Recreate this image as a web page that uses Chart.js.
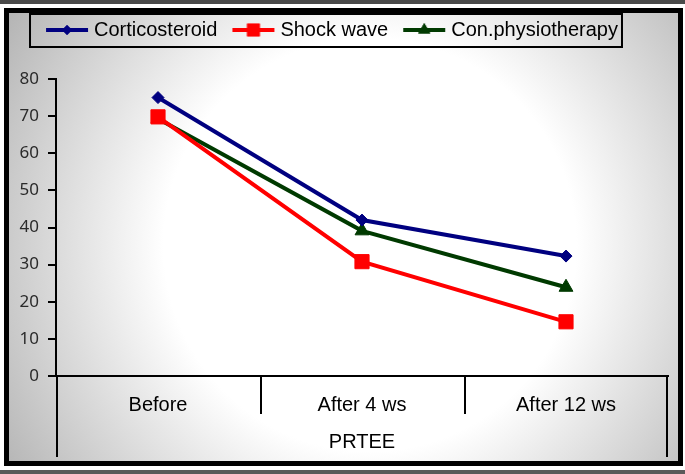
<!DOCTYPE html>
<html>
<head>
<meta charset="utf-8">
<script src="https://cdn.jsdelivr.net/npm/chart.js@4"></script>
<style>
  html, body { margin: 0; padding: 0; background: #fff; }
  #wrap { width: 685px; height: 474px; }
</style>
</head>
<body>
<div id="wrap"><canvas id="chart" width="685" height="474"></canvas></div>
<script>
// categorias e valores
const categories = ['Before', 'After 4 ws', 'After 12 ws'];
const corticosteroid = [75, 42, 32.3];
const shockWave = [69.8, 30.8, 14.6];
const conPhysio = [69.3, 39.1, 23.9];
const seriesNames = ['Corticosteroid', 'Shock wave', 'Con.physiotherapy'];
const axisTitle = 'PRTEE';
const yMax = 80;
const yStep = 10;

const FONT = '"Liberation Sans", Arial, sans-serif';

// amostra da legenda: linha + marcador
function legendSample(color, style, r) {
    const c = document.createElement('canvas');
    c.width = 44; c.height = 20;
    const g = c.getContext('2d');
    g.strokeStyle = color; g.lineWidth = 4;
    g.beginPath(); g.moveTo(1, 10); g.lineTo(43, 10); g.stroke();
    g.fillStyle = color;
    Chart.helpers.drawPoint(g, { pointStyle: style, radius: r, borderWidth: 0 }, 22, 10);
    g.fill();
    return c;
}

// fundo com gradiente e moldura preta
const framePlugin = {
    id: 'frame',
    beforeDraw(chart) {
        const ctx = chart.ctx;
        ctx.save();
        ctx.fillStyle = '#fff';
        ctx.fillRect(0, 0, 685, 474);
        ctx.fillStyle = '#4a4a4a';
        ctx.fillRect(0, 0, 685, 4);
        ctx.fillStyle = '#5a5a5a';
        ctx.fillRect(0, 470, 685, 4);
        const grd = ctx.createRadialGradient(370, 245, 0, 370, 245, 430);
        grd.addColorStop(0, '#ffffff');
        grd.addColorStop(0.48, '#ffffff');
        grd.addColorStop(1, '#b4b4b4');
        ctx.fillStyle = grd;
        ctx.fillRect(6, 10, 675, 454);
        ctx.strokeStyle = '#000';
        ctx.lineWidth = 5;
        ctx.strokeRect(6.5, 10.5, 674, 453);
        ctx.restore();
    },
    afterDraw(chart) {
        const ctx = chart.ctx;
        ctx.save();
        // caixa da legenda
        const boxes = chart.legend.legendHitBoxes;
        if (boxes && boxes.length) {
            const l = Math.min(...boxes.map(b => b.left)) - 20;
            const r = Math.max(...boxes.map(b => b.left + b.width)) + 4;
            const t = Math.min(...boxes.map(b => b.top)) - 6;
            const b2 = Math.max(...boxes.map(b => b.top + b.height)) + 7;
            ctx.strokeStyle = '#000';
            ctx.lineWidth = 2;
            ctx.strokeRect(l, t, r - l, b2 - t);
        }
        // linhas verticais da tabela de categorias
        const x = chart.scales.x;
        const y0 = chart.scales.y.getPixelForValue(0);
        const half = (x.getPixelForValue(1) - x.getPixelForValue(0)) / 2;
        ctx.strokeStyle = '#000';
        ctx.lineWidth = 2;
        for (let i = 0; i <= categories.length; i++) {
            const px = Math.round(x.getPixelForValue(i) - half) + (i === categories.length ? -1 : 1);
            const edge = i === 0 || i === categories.length;
            ctx.beginPath();
            ctx.moveTo(px, y0);
            ctx.lineTo(px, edge ? 457 : 414);
            ctx.stroke();
        }
        ctx.restore();
    }
};

const styles = [
    { color: '#000080', style: 'rectRot', r: 6, lr: 5 },
    { color: '#ff0000', style: 'rect', r: 10, lr: 9 },
    { color: '#003a00', style: 'triangle', r: 8, lr: 7 }
];
const values = [corticosteroid, shockWave, conPhysio];

const chart = new Chart(document.getElementById('chart'), {
    type: 'line',
    data: {
        labels: categories,
        datasets: values.map((v, i) => ({
            label: seriesNames[i],
            data: v,
            borderColor: styles[i].color,
            backgroundColor: styles[i].color,
            borderWidth: 4,
            pointStyle: styles[i].style,
            pointRadius: styles[i].r,
            pointHoverRadius: styles[i].r,
            pointBorderWidth: 1,
            tension: 0
        }))
    },
    options: {
        responsive: false,
        animation: false,
        layout: { padding: { left: 0, right: 17, top: 1, bottom: 0 } },
        plugins: {
            tooltip: { enabled: false },
            // título vazio usado só como espaço entre a legenda e o gráfico
            title: { display: true, text: '', padding: 0, font: { size: 29, lineHeight: 1 } },
            legend: {
                position: 'top',
                weight: 3000,
                labels: {
                    font: { family: FONT, size: 20 },
                    color: '#000',
                    padding: 19,
                    usePointStyle: true,
                    pointStyleWidth: 34,
                    generateLabels(ch) {
                        return ch.data.datasets.map((ds, i) => ({
                            text: ds.label,
                            datasetIndex: i,
                            pointStyle: legendSample(styles[i].color, styles[i].style, styles[i].lr),
                            fillStyle: styles[i].color,
                            strokeStyle: styles[i].color,
                            lineWidth: 0,
                            fontColor: '#000'
                        }));
                    }
                }
            }
        },
        scales: {
            x: {
                offset: true,
                grid: { display: false },
                border: { display: true, color: '#000', width: 2 },
                ticks: { color: '#000', font: { family: FONT, size: 20 }, padding: 9, maxRotation: 0 },
                title: { display: true, text: axisTitle, color: '#000', font: { family: FONT, size: 20 }, padding: { top: 0, bottom: 20 } },
                afterFit(s) { s.height = 98; }
            },
            y: {
                min: 0,
                max: yMax,
                ticks: { stepSize: yStep, color: '#2a2a2a', font: { family: '"Noto Sans", sans-serif', size: 17 }, padding: 9 },
                grid: { drawOnChartArea: false, color: '#000', lineWidth: 2, tickLength: 8 },
                border: { color: '#000', width: 2 },
                afterFit(s) { s.width = 56; }
            }
        }
    },
    plugins: [framePlugin]
});
</script>
</body>
</html>
